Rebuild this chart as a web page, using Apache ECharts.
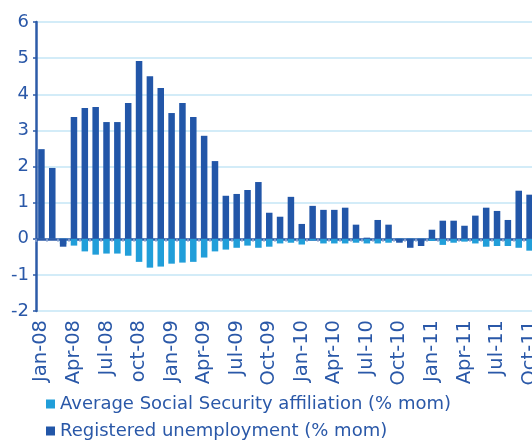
<!DOCTYPE html>
<html>
<head>
<meta charset="utf-8">
<script src="https://cdn.jsdelivr.net/npm/echarts@6/dist/echarts.min.js"></script>
<style>
  html, body { margin: 0; padding: 0; background: #fff; overflow: hidden; }
  /* the plot runs a few pixels past the right edge of the page */
  #chart { width: 540px; height: 446px; }
</style>
</head>
<body>
<div id="chart"></div>
<script>
// Monthly categories, Jan-08 .. Oct-11
const months = [
  'Jan-08','Feb-08','Mar-08','Apr-08','May-08','Jun-08','Jul-08','Aug-08','Sep-08','oct-08','Nov-08','Dec-08',
  'Jan-09','Feb-09','Mar-09','Apr-09','May-09','Jun-09','Jul-09','Aug-09','Sep-09','Oct-09','Nov-09','Dec-09',
  'Jan-10','Feb-10','Mar-10','Apr-10','May-10','Jun-10','Jul-10','Aug-10','Sep-10','Oct-10','Nov-10','Dec-10',
  'Jan-11','Feb-11','Mar-11','Apr-11','May-11','Jun-11','Jul-11','Aug-11','Sep-11','Oct-11'
];
// Only every third month carries a label
const labelEvery = 3;

// Average Social Security affiliation (% mom)
const affiliation = [
  0, 0, -0.15, -0.19, -0.35, -0.44, -0.41, -0.41, -0.47, -0.64, -0.80, -0.77,
  -0.69, -0.66, -0.64, -0.52, -0.35, -0.30, -0.25, -0.19, -0.25, -0.22, -0.13, -0.11,
  -0.16, -0.05, -0.13, -0.13, -0.13, -0.11, -0.13, -0.13, -0.11, -0.08, -0.10, -0.10,
  -0.06, -0.17, -0.11, -0.08, -0.13, -0.22, -0.20, -0.20, -0.25, -0.33
];
// Registered unemployment (% mom)
const unemployment = [
  2.48, 1.96, -0.22, 3.37, 3.62, 3.65, 3.23, 3.23, 3.76, 4.92, 4.50, 4.17,
  3.48, 3.76, 3.37, 2.85, 2.15, 1.19, 1.24, 1.35, 1.57, 0.72, 0.61, 1.16,
  0.41, 0.91, 0.80, 0.80, 0.86, 0.39, 0.03, 0.52, 0.39, -0.11, -0.25, -0.20,
  0.25, 0.50, 0.50, 0.36, 0.64, 0.86, 0.77, 0.52, 1.33, 1.22
];
const yTicks = { min: -2, max: 6, step: 1 };

const seriesNames = ['Average Social Security affiliation (% mom)', 'Registered unemployment (% mom)'];
const lightBlue = '#219ed9';
const darkBlue = '#2256a8';
const textBlue = '#2a58a8';
const fontFamily = '"DejaVu Sans", "Noto Sans", sans-serif';

const chart = echarts.init(document.getElementById('chart'), null, { renderer: 'canvas' });

chart.setOption({
  animation: false,
  backgroundColor: '#ffffff',
  grid: { left: 36, right: 5, top: 22, bottom: 135, containLabel: false },
  legend: {
    orient: 'vertical',
    left: 46,
    top: 395,
    padding: 0,
    icon: 'rect',
    itemWidth: 9,
    itemHeight: 9,
    itemGap: 9,
    selectedMode: false,
    textStyle: { color: textBlue, fontSize: 18, lineHeight: 18, fontFamily: fontFamily },
    data: seriesNames
  },
  xAxis: [
    {
      // zero line with boundary ticks
      type: 'category',
      data: months,
      boundaryGap: true,
      axisLine: { show: true, onZero: true, lineStyle: { color: '#2d5ba8', width: 2.5 } },
      axisTick: { show: true, length: 3, interval: 0, lineStyle: { color: '#8ea6d2', width: 1.5 } },
      axisLabel: { show: false },
      splitLine: { show: false }
    },
    {
      // month labels along the bottom
      type: 'category',
      data: months,
      position: 'bottom',
      boundaryGap: true,
      axisLine: { show: false, onZero: false },
      axisTick: { show: false },
      axisLabel: {
        show: true,
        rotate: 90,
        margin: 9,
        interval: function (i) { return i % labelEvery === 0; },
        color: textBlue,
        fontSize: 19.5,
        fontFamily: fontFamily
      },
      splitLine: { show: false }
    }
  ],
  yAxis: {
    type: 'value',
    min: yTicks.min,
    max: yTicks.max,
    interval: yTicks.step,
    axisLine: { show: true, lineStyle: { color: '#2d5ba8', width: 2.5 } },
    axisTick: { show: true, length: 3, lineStyle: { color: '#2d5ba8', width: 1.5 } },
    axisLabel: { color: textBlue, fontSize: 18, fontFamily: fontFamily, margin: 7 },
    splitLine: { show: true, lineStyle: { color: '#c5e6f6', width: 1.5 } }
  },
  series: [
    {
      name: seriesNames[0],
      type: 'bar',
      xAxisIndex: 0,
      data: affiliation,
      barWidth: '60%',
      barGap: '-100%',
      itemStyle: { color: lightBlue }
    },
    {
      name: seriesNames[1],
      type: 'bar',
      xAxisIndex: 0,
      data: unemployment,
      barWidth: '60%',
      barGap: '-100%',
      itemStyle: { color: darkBlue }
    }
  ]
});
</script>
</body>
</html>
